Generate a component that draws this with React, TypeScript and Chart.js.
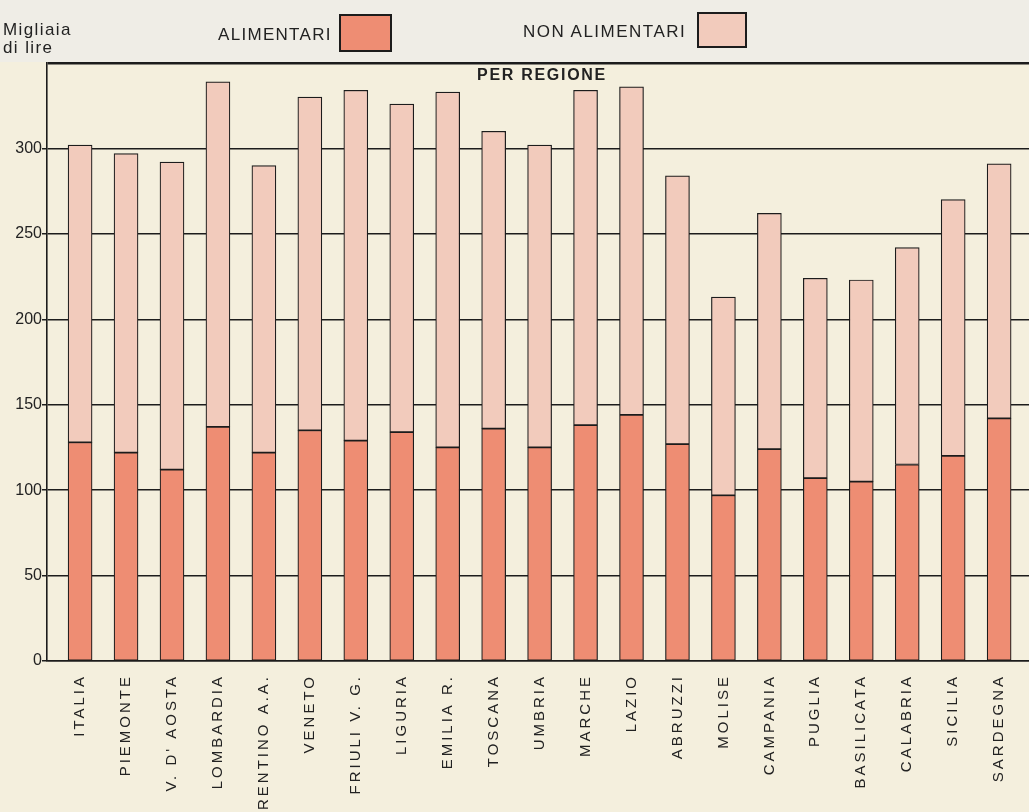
import React, { useEffect, useRef } from "react";
import { Chart, registerables, LinearScale } from "chart.js";

Chart.register(...registerables);

class SpacedLinearScale extends LinearScale {
  static id = "spacedLinear";
  static defaults = (LinearScale as any).defaults;
  drawLabels(chartArea: any) {
    const ctx: any = this.ctx;
    const prev = ctx.letterSpacing;
    ctx.letterSpacing = "3px";
    // @ts-ignore
    super.drawLabels(chartArea);
    ctx.letterSpacing = prev || "0px";
  }
}
Chart.register(SpacedLinearScale as any);

const categories = [
  "ITALIA", "PIEMONTE", "V. D' AOSTA", "LOMBARDIA", "TRENTINO A.A.", "VENETO",
  "FRIULI V. G.", "LIGURIA", "EMILIA R.", "TOSCANA", "UMBRIA", "MARCHE",
  "LAZIO", "ABRUZZI", "MOLISE", "CAMPANIA", "PUGLIA", "BASILICATA",
  "CALABRIA", "SICILIA", "SARDEGNA",
];
const alimentari = [128, 122, 112, 137, 122, 135, 129, 134, 125, 136, 125, 138, 144, 127, 97, 124, 107, 105, 115, 120, 142];
const nonAlimentari = [174, 175, 180, 202, 168, 195, 205, 192, 208, 174, 177, 196, 192, 157, 116, 138, 117, 118, 127, 150, 149];
const yTicks = [0, 50, 100, 150, 200, 250, 300, 350];
const seriesNames = ["ALIMENTARI", "NON ALIMENTARI"];
const seriesColors = ["#ee8d73", "#f2cbbc"];

const BG = "#f4efdd";
const HEADER_BG = "#efede6";
const INK = "#1c1c1c";

export default function App() {
  const ref = useRef<HTMLCanvasElement | null>(null);
  useEffect(() => {
    document.body.style.margin = "0";
    const canvas = ref.current!;
    const chart = new Chart(canvas, {
      type: "bar",
      data: {
        datasets: [
          {
            label: seriesNames[0],
            data: alimentari.map((v, i) => ({ x: i, y: v })),
            backgroundColor: seriesColors[0],
            borderColor: INK,
            borderWidth: 1.2,
            borderSkipped: false,
            barThickness: 24,
          },
          {
            label: seriesNames[1],
            data: nonAlimentari.map((v, i) => ({ x: i, y: v })),
            backgroundColor: seriesColors[1],
            borderColor: INK,
            borderWidth: 1.2,
            borderSkipped: false,
            barThickness: 24,
          },
        ],
      },
      options: {
        animation: false,
        responsive: false,
        maintainAspectRatio: false,
        layout: { padding: { top: 63, right: 0, left: 0, bottom: 0 } },
        plugins: { legend: { display: false }, tooltip: { enabled: false }, title: { display: false } },
        scales: {
          x: {
            type: "spacedLinear" as any,
            stacked: true,
            offset: false,
            min: -0.72,
            max: 20.65,
            grid: { display: false },
            border: { display: true, color: INK, width: 1.6 },
            afterFit: (s: any) => { s.height = 151; },
            ticks: {
              stepSize: 1,
              includeBounds: false,
              autoSkip: false,
              minRotation: 90,
              maxRotation: 90,
              padding: 5,
              color: "#222",
              font: { family: "'Liberation Sans', Arial, sans-serif", size: 15 },
              callback: (v: any) => (Number.isInteger(v) && categories[v] !== undefined ? categories[v] : ""),
            },
          } as any,
          y: {
            stacked: true,
            min: 0,
            max: 350,
            afterFit: (s: any) => { s.width = 47; },
            afterBuildTicks: (s: any) => { s.ticks = yTicks.map((v) => ({ value: v })); },
            grid: {
              color: INK,
              lineWidth: (c: any) => (c.tick && c.tick.value === 350 ? 2.6 : 1.5),
              tickColor: (c: any) => (c.tick && c.tick.value === 350 ? "rgba(0,0,0,0)" : INK),
              tickLength: 5,
              drawTicks: true,
            },
            border: { display: true, color: INK, width: 1.6 },
            ticks: {
              padding: 0,
              color: "#222",
              font: { family: "'Liberation Sans', Arial, sans-serif", size: 16 },
              callback: (v: any) => (v === 350 ? "" : String(v)),
            },
          },
        },
      },
    });
    return () => chart.destroy();
  }, []);

  const textFont = "'Liberation Sans', Arial, sans-serif";
  return (
    <div style={{ position: "fixed", left: 0, top: 0, width: 1029, height: 812, background: BG, overflow: "hidden", fontFamily: textFont, color: "#222" }}>
      <div style={{ position: "absolute", left: 0, top: 0, width: 1029, height: 62, background: HEADER_BG }} />
      <canvas ref={ref} width={1029} height={812} style={{ position: "absolute", left: 0, top: 0, width: 1029, height: 812 }} />
      <div style={{ position: "absolute", left: 3, top: 21, fontSize: 17, lineHeight: "18px", letterSpacing: 1.4 }}>
        Migliaia<br />di lire
      </div>
      <div style={{ position: "absolute", left: 218, top: 25, fontSize: 17, lineHeight: "19px", letterSpacing: 1.3 }}>{seriesNames[0]}</div>
      <div style={{ position: "absolute", left: 339, top: 14, width: 53, height: 38, background: seriesColors[0], border: `2px solid ${INK}`, boxSizing: "border-box" }} />
      <div style={{ position: "absolute", left: 523, top: 22, fontSize: 17, lineHeight: "19px", letterSpacing: 1.5 }}>{seriesNames[1]}</div>
      <div style={{ position: "absolute", left: 697, top: 12, width: 50, height: 36, background: seriesColors[1], border: `2px solid ${INK}`, boxSizing: "border-box" }} />
      <div style={{ position: "absolute", left: 0, width: 1084, textAlign: "center", top: 66, fontSize: 16, lineHeight: "18px", fontWeight: "bold", letterSpacing: 1.7 }}>PER REGIONE</div>
    </div>
  );
}
